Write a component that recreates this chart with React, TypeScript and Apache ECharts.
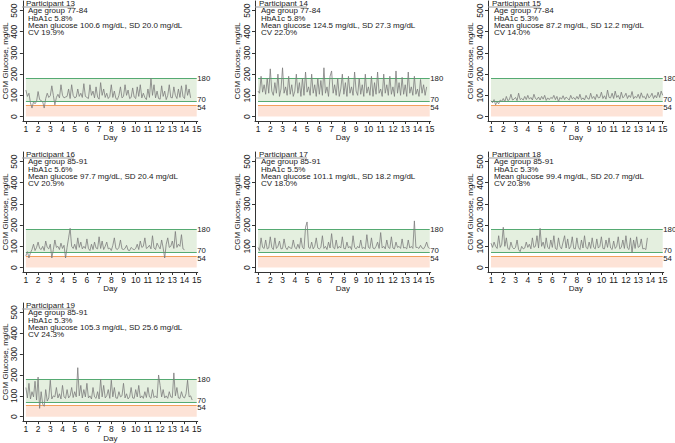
import React, { useEffect, useRef } from "react";
import * as echarts from "echarts";

const participants = ["13", "14", "15", "16", "17", "18", "19"];
const ageGroups = ["77-84", "77-84", "77-84", "85-91", "85-91", "85-91", "85-91"];
const hba1c = ["5.8", "5.8", "5.3", "5.6", "5.5", "5.3", "5.3"];
const meanGlucose = ["100.6", "124.5", "87.2", "97.7", "101.1", "99.4", "105.3"];
const sdGlucose = ["20.0", "27.3", "12.2", "20.4", "18.2", "20.7", "25.6"];
const cvPct = ["19.9", "22.0", "14.0", "20.9", "18.0", "20.8", "24.3"];

const dayTicks = [1, 2, 3, 4, 5, 6, 7, 8, 9, 10, 11, 12, 13, 14, 15];
const glucoseTicks = [0, 100, 200, 300, 400, 500];
const rangeHigh = 180;
const rangeLow = 70;
const rangeVeryLow = 54;
const firstDay = 1;
const lastDay = 15;
const samplesPerDay = 8;

// CGM readings, 8 per day (every 3 h)
const glucose13 = [
  125, 95, 110, 65, 40, 70, 60, 72,
  118, 80, 75, 70, 40, 85, 110, 90,
  98, 145, 100, 55, 90, 105, 88, 150,
  100, 88, 92, 95, 130, 85, 150, 100,
  88, 92, 130, 95, 110, 90, 155, 95,
  90, 85, 150, 100, 120, 88, 140, 92,
  82, 160, 100, 130, 90, 110, 85, 95,
  150, 90, 120, 85, 80, 100, 140, 88,
  95, 150, 100, 125, 85, 90, 135, 92,
  85, 140, 95, 150, 88, 110, 90, 80,
  130, 90, 180, 100, 150, 88, 120, 85,
  82, 145, 95, 120, 80, 100, 150, 90,
  88, 140, 100, 85, 130, 90, 145, 95,
  85, 150, 100, 130, 88,
];
const glucose14 = [
  120, 110, 190, 115, 150, 105, 180, 110,
  225, 120, 100, 160, 110, 200, 95, 130,
  230, 110, 140, 100, 190, 105, 150, 95,
  120, 200, 110, 160, 95, 180, 100, 210,
  115, 140, 100, 200, 110, 150, 95, 180,
  105, 170, 100, 230, 110, 140, 95, 190,
  215, 110, 150, 100, 180, 95, 130, 200,
  105, 160, 95, 190, 110, 140, 100, 210,
  120, 100, 180, 105, 150, 95, 200, 110,
  140, 100, 190, 95, 160, 105, 210, 110,
  130, 95, 200, 110, 150, 100, 190, 105,
  140, 95, 215, 110, 160, 100, 185, 105,
  150, 95, 210, 110, 140, 100, 190, 105,
  130, 95, 175, 110, 150, 100, 140,
];
const glucose15 = [
  75, 65, 80, 55, 70, 60, 78, 72,
  85, 70, 95, 75, 80, 105, 78, 82,
  90, 75, 110, 80, 85, 78, 95, 80,
  100, 82, 90, 78, 105, 85, 80, 92,
  78, 95, 82, 100, 76, 88, 80, 90,
  85, 100, 80, 95, 70, 90, 82, 98,
  80, 92, 85, 78, 100, 83, 90, 80,
  95, 82, 105, 80, 88, 78, 100, 85,
  82, 110, 85, 95, 80, 105, 88, 90,
  115, 85, 98, 82, 125, 90, 88, 110,
  85, 120, 90, 100, 82, 115, 88, 95,
  110, 85, 100, 90, 118, 84, 95, 88,
  105, 85, 112, 90, 95, 82, 108, 88,
  95, 110, 85, 100, 88, 115, 90, 120,
  100,
];
const glucose16 = [
  55, 75, 45, 70, 85, 110, 80, 95,
  120, 90, 85, 100, 80, 125, 95, 88,
  110, 45, 85, 130, 95, 100, 85, 115,
  90, 105, 45, 95, 140, 185, 100, 90,
  110, 85, 140, 95, 120, 88, 100, 90,
  135, 90, 80, 110, 85, 120, 92, 88,
  145, 90, 125, 85, 100, 120, 88, 92,
  80, 105, 140, 90, 85, 95, 130, 88,
  85, 90, 105, 82, 80, 95, 88, 84,
  90, 110, 85, 125, 95, 100, 140, 90,
  95, 105, 88, 150, 92, 85, 115, 100,
  88, 130, 92, 45, 110, 140, 95, 100,
  125, 90, 170, 95, 110, 100, 155, 88,
  84,
];
const glucose17 = [
  95, 80, 140, 95, 90, 130, 88, 92,
  145, 95, 85, 140, 90, 100, 125, 88,
  90, 135, 95, 85, 100, 92, 90, 130,
  95, 88, 110, 90, 140, 95, 88, 190,
  215, 95, 90, 120, 88, 100, 140, 92,
  88, 95, 150, 90, 100, 85, 120, 92,
  160, 95, 88, 130, 90, 100, 92, 145,
  90, 88, 120, 92, 100, 85, 150, 95,
  88, 100, 92, 130, 90, 95, 88, 155,
  95, 90, 140, 92, 88, 100, 120, 90,
  165, 92, 100, 88, 130, 95, 90, 145,
  92, 88, 120, 95, 100, 90, 135, 92,
  95, 88, 130, 92, 100, 90, 220, 95,
  95, 90, 105, 92, 88, 100, 120, 95,
  90,
];
const glucose18 = [
  115, 95, 120, 100, 90, 150, 95, 110,
  190, 100, 140, 90, 85, 120, 95, 88,
  95, 130, 85, 75, 100, 88, 92, 120,
  95, 110, 88, 140, 95, 100, 150, 92,
  185, 100, 120, 90, 140, 95, 88, 130,
  95, 150, 90, 85, 140, 100, 88, 120,
  150, 92, 135, 88, 100, 145, 90, 88,
  140, 95, 85, 130, 92, 150, 95, 88,
  120, 90, 140, 95, 88, 135, 92, 100,
  145, 90, 88, 130, 95, 140, 92, 85,
  125, 90, 100, 145, 88, 95, 130, 90,
  150, 92, 85, 140, 70, 130, 90, 145,
  95, 100, 135, 88, 90, 85, 140,
];
const glucose19 = [
  140, 90, 160, 85, 120, 95, 170, 80,
  190, 40, 120, 60, 50, 130, 75, 90,
  175, 85, 100, 95, 140, 90, 110, 85,
  150, 95, 88, 130, 90, 100, 140, 92,
  120, 95, 235, 100, 150, 90, 130, 95,
  160, 90, 100, 85, 140, 95, 88, 120,
  85, 180, 95, 150, 90, 100, 130, 88,
  175, 95, 140, 90, 88, 120, 95, 100,
  160, 90, 110, 85, 95, 140, 90, 88,
  130, 95, 150, 90, 100, 88, 120, 92,
  140, 95, 88, 130, 92, 100, 90, 200,
  150, 95, 130, 90, 100, 88, 120, 95,
  92, 210, 100, 140, 90, 88, 120, 95,
  90, 110, 175, 95, 100, 80,
];

const glucoseSeries = [glucose13, glucose14, glucose15, glucose16, glucose17, glucose18, glucose19];

const FONT = '"Liberation Sans", Arial, Helvetica, sans-serif';
const TEXT = "#1a1a1a";
const AXIS = "#333333";
const GREEN_LINE = "#55aa72";
const GREEN_FILL = "#e4efdf";
const ORANGE_LINE = "#f2a05c";
const PINK_FILL = "#fde3d7";
const TRACE = "#7c7c7c";

const COL_STEP = 233;
const ROW_STEP = 151;
const PANEL_LEFT = 22;
const PANEL_TOP = 1;
const PLOT_W = 175.7;
const PLOT_H = 120;

export default function App() {
  const ref = useRef<HTMLDivElement>(null);

  useEffect(() => {
    if (!ref.current) return;
    const chart = echarts.init(ref.current, null, { renderer: "svg" });

    const grids: any[] = [];
    const xAxes: any[] = [];
    const yAxes: any[] = [];
    const series: any[] = [];
    const graphics: any[] = [];

    glucoseSeries.forEach((vals, k) => {
      const col = k % 3;
      const row = Math.floor(k / 3);
      const ox = PANEL_LEFT + COL_STEP * col;
      const oy = ROW_STEP * row;
      grids.push({ left: ox, top: oy + PANEL_TOP, width: PLOT_W, height: PLOT_H });
      xAxes.push({
        type: "value",
        gridIndex: k,
        min: 0.755,
        max: 15.08,
        name: "Day",
        nameLocation: "middle",
        nameGap: 10.5,
        nameTextStyle: { fontFamily: FONT, fontSize: 8, color: TEXT },
        axisLine: { show: true, onZero: false, lineStyle: { color: AXIS, width: 1 } },
        axisTick: { show: true, length: 3, customValues: dayTicks, lineStyle: { color: AXIS } },
        axisLabel: {
          show: true,
          customValues: dayTicks,
          margin: 3,
          fontFamily: FONT,
          fontSize: 8.5,
          color: TEXT,
          showMinLabel: true,
          showMaxLabel: true,
        },
        splitLine: { show: false },
      });
      yAxes.push({
        type: "value",
        gridIndex: k,
        min: -21,
        max: 545,
        name: "CGM Glucose, mg/dL",
        nameLocation: "middle",
        nameGap: 12,
        nameTextStyle: { fontFamily: FONT, fontSize: 8, color: TEXT },
        axisLine: { show: true, onZero: false, lineStyle: { color: AXIS, width: 1 } },
        axisTick: { show: true, length: 3, customValues: glucoseTicks, lineStyle: { color: AXIS } },
        axisLabel: {
          show: true,
          customValues: glucoseTicks,
          rotate: 90,
          margin: 4,
          fontFamily: FONT,
          fontSize: 8.5,
          color: TEXT,
        },
        splitLine: { show: false },
      });

      const mkLineLabel = (txt: string, dy: number) => ({
        show: true,
        position: "end",
        formatter: txt,
        distance: 0.5,
        offset: [0, dy],
        fontFamily: FONT,
        fontSize: 7.8,
        lineHeight: 7,
        color: TEXT,
      });

      series.push({
        type: "line",
        xAxisIndex: k,
        yAxisIndex: k,
        data: vals.map((v, i) => [firstDay + i / samplesPerDay, v]),
        showSymbol: false,
        symbol: "none",
        lineStyle: { color: TRACE, width: 0.8 },
        z: 5,
        markArea: {
          silent: true,
          z: 1,
          data: [
            [
              { coord: [firstDay, rangeLow], itemStyle: { color: GREEN_FILL } },
              { coord: [lastDay, rangeHigh] },
            ],
            [
              { coord: [firstDay, 0], itemStyle: { color: PINK_FILL } },
              { coord: [lastDay, rangeVeryLow] },
            ],
          ],
        },
        markLine: {
          silent: true,
          symbol: ["none", "none"],
          z: 2,
          data: [
            [
              { coord: [firstDay, rangeHigh], lineStyle: { color: GREEN_LINE, width: 1, type: "solid" }, label: mkLineLabel(String(rangeHigh), 0) },
              { coord: [lastDay, rangeHigh] },
            ],
            [
              { coord: [firstDay, rangeLow], lineStyle: { color: GREEN_LINE, width: 1, type: "solid" }, label: mkLineLabel(String(rangeLow), -2) },
              { coord: [lastDay, rangeLow] },
            ],
            [
              { coord: [firstDay, rangeVeryLow], lineStyle: { color: ORANGE_LINE, width: 1, type: "solid" }, label: mkLineLabel(String(rangeVeryLow), 2.5) },
              { coord: [lastDay, rangeVeryLow] },
            ],
          ],
        },
      });

      const lines = [
        `Age group ${ageGroups[k]}`,
        `HbA1c ${hba1c[k]}%`,
        `Mean glucose ${meanGlucose[k]} mg/dL, SD ${sdGlucose[k]} mg/dL`,
        `CV ${cvPct[k]}%`,
      ];
      graphics.push({
        type: "line",
        shape: { x1: ox, y1: oy + 7, x2: ox + 52, y2: oy + 7 },
        style: { stroke: "#9a9a9a", lineWidth: 1 },
        z: 10,
      });
      graphics.push({
        type: "text",
        x: ox + 4,
        y: oy + 3.6,
        style: {
          text: `Participant ${participants[k]}`,
          font: `8px ${FONT}`,
          lineHeight: 7,
          fill: TEXT,
          textAlign: "left",
          textVerticalAlign: "middle",
          verticalAlign: "middle",
        },
        z: 11,
      });
      lines.forEach((t, j) => {
        graphics.push({
          type: "text",
          x: ox + 6,
          y: oy + 10.8 + 7.2 * j,
          style: {
            text: t,
            font: `8px ${FONT}`,
            lineHeight: 7,
            fill: TEXT,
            textAlign: "left",
            textVerticalAlign: "middle",
            verticalAlign: "middle",
          },
          z: 11,
        });
      });
    });

    chart.setOption({
      animation: false,
      backgroundColor: "#ffffff",
      grid: grids,
      xAxis: xAxes,
      yAxis: yAxes,
      series,
      graphic: graphics,
    });

    return () => {
      chart.dispose();
    };
  }, []);

  return (
    <div
      ref={ref}
      style={{ position: "fixed", left: 0, top: 0, width: 675, height: 443, background: "#fff" }}
    />
  );
}
